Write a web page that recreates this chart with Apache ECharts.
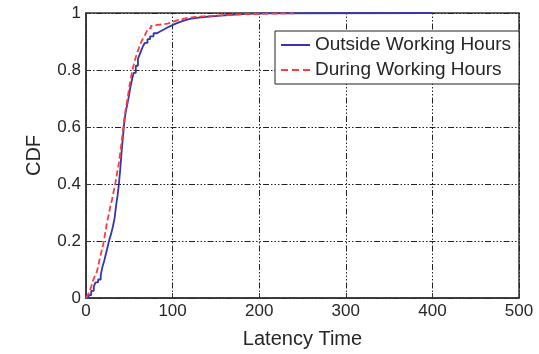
<!DOCTYPE html>
<html>
<head>
<meta charset="utf-8">
<script src="https://cdn.jsdelivr.net/npm/echarts@6/dist/echarts.min.js"></script>
<style>
  html, body { margin: 0; padding: 0; background: #fff; }
  #chart { width: 539px; height: 354px; }
</style>
</head>
<body>
<div id="chart"></div>
<script>
// Empirical CDF of latency, outside working hours: [latency, cumulative fraction]
const outsideLatency = [0, 3, 6, 9, 11, 14, 17, 19, 21, 23, 25, 27, 29, 31, 33, 35, 36.5, 38, 39.5, 41, 42.5, 44, 45.5, 47, 49, 51, 53, 55, 57.5, 60, 62, 64, 66, 68, 71, 74, 78, 82, 86, 90, 94, 98, 103, 108, 114, 120, 128, 136, 146, 155, 165, 175, 185, 198, 210, 400];
const outsideCdf = [0, 0.01, 0.025, 0.04, 0.055, 0.065, 0.08, 0.11, 0.13, 0.155, 0.18, 0.205, 0.225, 0.25, 0.28, 0.33, 0.36, 0.40, 0.45, 0.51, 0.56, 0.61, 0.645, 0.67, 0.70, 0.735, 0.765, 0.79, 0.815, 0.84, 0.855, 0.87, 0.885, 0.895, 0.908, 0.918, 0.929, 0.936, 0.942, 0.949, 0.955, 0.962, 0.968, 0.974, 0.979, 0.983, 0.986, 0.988, 0.991, 0.993, 0.995, 0.997, 0.998, 0.999, 1.0, 1.0];

// Empirical CDF of latency, during working hours
const duringLatency = [0, 2, 4, 6, 8, 10, 12, 14, 16, 18, 20, 22, 24, 26, 28, 30, 32, 34, 36, 38, 40, 42, 44, 46, 48, 50, 52, 54, 56, 58, 60, 62, 64, 66, 68, 70, 72, 75, 78, 82, 88, 94, 100, 106, 112, 118, 126, 135, 145, 155, 170, 185, 200, 215, 240];
const duringCdf = [0, 0.01, 0.022, 0.04, 0.06, 0.075, 0.087, 0.11, 0.14, 0.165, 0.19, 0.225, 0.26, 0.29, 0.32, 0.345, 0.375, 0.405, 0.44, 0.475, 0.52, 0.57, 0.625, 0.665, 0.70, 0.74, 0.775, 0.805, 0.83, 0.85, 0.868, 0.885, 0.9, 0.912, 0.922, 0.935, 0.946, 0.955, 0.958, 0.96, 0.963, 0.968, 0.975, 0.979, 0.983, 0.986, 0.988, 0.99, 0.992, 0.994, 0.996, 0.997, 0.998, 0.999, 1.0];

const seriesNames = ['Outside Working Hours', 'During Working Hours'];
const xTicks = [0, 100, 200, 300, 400, 500];
const yTicks = [0, 0.2, 0.4, 0.6, 0.8, 1];

const pairs = (xs, ys) => xs.map((x, i) => [x, ys[i]]);

const blue = '#3535b0';
const red = '#ff3b3b';
const textColor = '#262626';
const fontFamily = 'Liberation Sans, Arial, Helvetica, sans-serif';
const gridLine = {
  show: true,
  lineStyle: { color: '#222', width: 1, type: [1.5, 2, 1.5, 2, 1.5, 2, 6, 2] }
};

// legend keys: a solid stroke and a dashed stroke
const solidKey = 'path://M0,0h29v2h-29z';
const dashedKey = 'path://M0,0h7v2h-7zM11,0h7v2h-7zM22,0h7v2h-7z';

const chart = echarts.init(document.getElementById('chart'), null, { renderer: 'canvas' });
chart.setOption({
  backgroundColor: '#fff',
  animation: false,
  textStyle: { fontFamily: fontFamily },
  grid: {
    left: 86, right: 20, top: 13, bottom: 56,
    show: true, borderColor: '#333', borderWidth: 1.5, backgroundColor: 'transparent'
  },
  legend: {
    data: [
      { name: seriesNames[0], icon: solidKey, itemStyle: { color: blue } },
      { name: seriesNames[1], icon: dashedKey, itemStyle: { color: red } }
    ],
    orient: 'vertical',
    left: 275, top: 31,
    padding: [4, 8, 4, 6],
    itemGap: 5,
    itemWidth: 29, itemHeight: 2,
    backgroundColor: '#fff',
    borderColor: '#222', borderWidth: 1,
    textStyle: { color: textColor, fontSize: 19, fontFamily: fontFamily, lineHeight: 20 }
  },
  xAxis: {
    type: 'value',
    min: xTicks[0], max: xTicks[xTicks.length - 1], interval: 100,
    name: 'Latency Time', nameLocation: 'middle', nameGap: 31,
    nameTextStyle: { color: textColor, fontSize: 20, fontFamily: fontFamily },
    axisLine: { show: true, onZero: false, lineStyle: { color: '#333', width: 1.5 } },
    axisTick: { show: true, inside: true, length: 5, lineStyle: { color: '#333' } },
    axisLabel: { color: textColor, fontSize: 17, margin: 5 },
    splitLine: gridLine
  },
  yAxis: {
    type: 'value',
    min: yTicks[0], max: yTicks[yTicks.length - 1], interval: 0.2,
    name: 'CDF', nameLocation: 'middle', nameGap: 42, nameRotate: 90,
    nameTextStyle: { color: textColor, fontSize: 20, fontFamily: fontFamily },
    axisLine: { show: true, onZero: false, lineStyle: { color: '#333', width: 1.5 } },
    axisTick: { show: true, inside: true, length: 5, lineStyle: { color: '#333' } },
    axisLabel: { color: textColor, fontSize: 17, margin: 5 },
    splitLine: gridLine
  },
  series: [
    {
      name: seriesNames[0],
      type: 'line',
      step: 'end',
      data: pairs(outsideLatency, outsideCdf),
      showSymbol: false, symbol: 'none',
      lineStyle: { color: blue, width: 1.8 },
      itemStyle: { color: blue },
      z: 3
    },
    {
      name: seriesNames[1],
      type: 'line',
      step: 'end',
      data: pairs(duringLatency, duringCdf),
      showSymbol: false, symbol: 'none',
      lineStyle: { color: red, width: 1.8, type: [6, 3] },
      itemStyle: { color: red },
      z: 4
    }
  ]
});
</script>
</body>
</html>
